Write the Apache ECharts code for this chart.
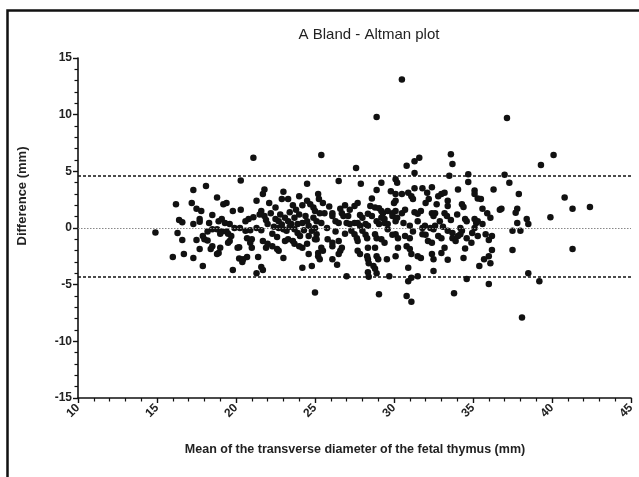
<!DOCTYPE html>
<html>
<head>
<meta charset="utf-8">
<script src="https://cdn.jsdelivr.net/npm/echarts@6/dist/echarts.min.js"></script>
<style>
html,body{margin:0;padding:0;background:#fff;}
#c{width:639px;height:477px;}
</style>
</head>
<body>
<div id="c"></div>
<script>
// Chart texts
const titleText = 'A Bland - Altman plot';
const xAxisTitle = 'Mean of the transverse diameter of the fetal thymus (mm)';
const yAxisTitle = 'Difference (mm)';

// Axis ranges / ticks
const xTicks = [10, 15, 20, 25, 30, 35, 40, 45];
const yTicks = [-15, -10, -5, 0, 5, 10, 15];

// Reference lines: upper limit of agreement, zero, lower limit of agreement
const upperLoA = 4.62;
const zeroLine = 0;
const lowerLoA = -4.32;

// Points (mean, difference)
const meanX = [
14.9,16.2,17.3,18.1,17.2,18.8,19.2,19.4,17.5,17.8,18.5,19.8,16.4,16.6,17.3,17.7,17.7,18.3,18.9,19.1,19.3,19.6,16.3,18.2,18.5,17.9,18.0,18.2,18.8,19.1,19.0,19.4,19.5,19.7,19.6,16.6,17.5,18.5,18.4,17.7,19.0,18.9,18.8,19.5,16.0,16.7,17.3,17.9,19.8,20.2,20.1,
21.1,20.3,24.5,21.8,21.7,23.0,22.9,23.3,21.3,22.1,20.3,21.6,21.5,22.5,24.5,24.7,24.9,25.0,20.8,20.6,21.1,21.8,21.9,22.0,22.5,22.7,23.3,23.5,23.7,23.9,24.2,24.4,24.5,24.6,24.9,25.1,19.9,20.25,20.6,20.9,21.3,21.6,22.7,23.0,23.2,23.9,24.05,24.8,25.1,20.7,21.0,20.9,21.7,22.0,21.9,22.3,22.6,22.7,23.1,23.3,23.6,23.7,24.2,24.5,25.0,20.2,21.0,24.6,25.2,20.7,23.0,20.4,20.45,21.4,21.6,21.7,21.3,24.2,24.8,25.0,
22.2,22.8,23.1,23.4,23.8,24.0,24.2,24.0,23.6,22.4,22.9,23.4,23.7,24.3,24.6,22.3,22.6,24.0,
25.4,27.6,26.5,27.9,28.9,29.2,30.1,30.2,29.8,30.1,25.2,25.25,25.5,27.7,27.5,28.5,28.8,29.05,29.2,29.3,29.6,29.9,25.3,25.6,26.1,26.1,26.6,26.7,26.8,27.1,27.85,28.0,28.35,28.6,29.2,29.4,29.9,30.2,25.4,26.3,26.5,27.0,27.2,27.5,27.7,27.85,28.2,28.35,28.9,29.05,29.4,29.6,25.0,25.76,27.3,27.5,27.65,27.7,28.0,28.2,28.3,28.8,28.9,29.2,29.4,30.1,30.25,25.1,25.8,26.1,26.1,26.5,25.4,25.5,26.7,26.6,26.5,27.7,27.85,28.35,28.8,28.3,28.35,28.4,28.9,29.0,29.55,30.1,25.2,25.3,26.1,26.4,28.7,28.8,28.9,28.35,28.4,27.0,29.7,29.05,
25.9,26.9,27.2,26.3,26.9,29.6,29.9,30.0,28.6,28.9,30.5,
33.6,33.7,31.6,31.3,30.8,31.3,33.5,34.7,34.7,30.9,31.3,31.8,32.4,33.0,33.2,34.05,35.1,35.1,30.5,30.1,31.1,31.2,32.1,32.2,32.0,32.8,32.7,33.4,33.4,34.3,34.4,30.1,30.5,30.7,31.3,31.5,31.7,32.4,32.5,32.6,33.2,33.35,34.5,34.6,35.1,35.2,30.1,30.6,31.0,31.5,31.8,31.96,32.3,32.5,32.6,33.1,33.4,33.7,34.2,34.3,34.2,34.05,35.1,30.7,31.0,31.8,32.8,33.0,33.7,33.9,34.6,34.9,34.95,30.25,30.8,31.0,31.1,31.5,31.7,32.15,32.4,33.2,32.4,32.5,33.4,34.4,35.4,30.9,32.5,31.5,31.1,30.9,34.6,30.8,31.1,33.8,
32.9,33.6,34.0,31.2,32.0,34.5,33.0,
36.3,35.3,35.5,36.7,35.6,35.9,36.1,35.3,35.6,35.3,35.8,36.2,36.0,36.2,36.0,35.7,36.1,36.0,
37.15,37.0,37.3,37.9,36.8,37.8,37.7,37.8,38.4,38.5,37.5,38.0,37.5,38.5,39.2,38.1,39.3,40.1,40.8,41.3,42.4,39.9,41.3
];
const diff = [
-0.4,2.1,3.35,3.7,2.2,2.7,2.1,2.2,1.7,1.5,1.15,1.5,0.7,0.5,0.35,0.8,0.55,0.45,0.6,0.8,0.45,0.35,-0.45,-0.3,-0.1,-0.7,-1.0,-1.1,-0.1,-0.3,-0.5,-0.3,-0.5,-0.7,-1.15,-1.05,-1.05,-1.6,-1.85,-1.85,-1.75,-2.2,-2.3,-1.3,-2.55,-2.3,-2.65,-3.35,-3.7,-2.7,-1.75,
6.2,4.2,3.9,3.4,3.0,3.2,2.55,2.55,2.4,2.2,1.6,1.5,1.2,1.8,2.4,2.1,1.8,1.5,0.8,0.6,0.95,1.05,0.7,0.35,0.8,0.6,0.6,0.35,0.9,0.35,0.45,1.05,0.6,0.2,0.9,0.6,0.0,0.0,-0.25,-0.2,0.0,-0.2,0.0,-0.1,-0.25,-0.45,-0.7,-0.25,-0.55,-0.9,-1.0,-1.3,-1.15,-1.4,-1.75,-1.6,-1.85,-2.0,-1.15,-1.0,-1.15,-1.4,-1.75,-1.4,-1.0,-1.7,-1.75,-2.3,-2.2,-2.55,-2.65,-3.0,-2.75,-2.55,-3.45,-3.7,-4.0,-3.5,-3.35,-5.7,
1.3,1.2,0.9,1.4,1.6,1.2,2.0,2.8,2.0,0.1,0.3,0.1,-0.1,-0.2,-0.7,-0.5,-0.8,-1.6,
6.45,5.3,4.15,3.9,3.35,4.0,4.3,4.0,3.25,3.0,3.0,2.55,2.2,2.2,1.95,1.95,1.8,1.75,1.5,1.3,1.5,1.3,1.3,1.3,1.3,1.05,1.7,1.3,1.05,1.05,1.15,0.9,1.25,1.05,0.9,0.8,1.05,0.9,0.45,0.6,0.45,0.45,0.35,0.45,0.45,0.2,0.35,0.2,0.6,0.35,0.45,0.35,0.0,0.0,-0.25,-0.55,-0.9,-1.15,-0.25,-0.6,-0.9,-0.55,-0.9,-1.0,-1.3,-0.55,-0.9,-1.0,-1.0,-1.3,-1.6,-1.15,-1.75,-2.0,-1.75,-2.0,-2.3,-2.0,-2.3,-1.75,-1.75,-2.5,-2.75,-3.1,-2.5,-2.75,-2.75,-2.5,-2.5,-2.75,-2.75,-3.25,-3.35,-3.6,-4.0,-3.9,-4.3,-4.25,-4.25,-5.85,
1.9,2.0,1.6,-0.3,-0.5,-0.1,-0.6,2.2,2.6,9.8,13.1,
6.5,5.65,6.2,5.9,5.5,4.85,4.6,4.75,4.05,3.1,3.5,3.5,3.6,3.0,3.1,3.4,3.3,3.0,3.0,2.4,2.8,2.55,3.1,2.55,2.2,2.8,2.1,2.4,1.95,2.1,1.85,1.5,1.3,1.6,1.4,1.25,1.5,1.3,1.05,1.3,1.3,1.05,0.8,0.6,0.8,0.45,0.6,0.45,0.2,0.6,0.0,0.2,0.0,-0.1,0.2,0.1,-0.25,-0.45,0.0,-0.25,-0.55,-0.7,0.0,-0.7,-0.9,-0.55,-0.7,-0.9,-0.9,-1.15,-0.9,-1.3,-0.45,-1.75,-1.6,-1.85,-2.3,-2.5,-2.65,-1.15,-1.3,-1.75,-2.3,-2.75,-2.8,-2.65,-3.35,-3.5,-3.8,-4.25,-4.4,-4.7,-4.5,-6.0,-6.5,-5.75,
0.6,0.7,1.2,-0.3,-0.6,-1.8,-2.2,
3.4,2.6,2.55,1.6,1.7,1.3,0.9,0.6,0.35,-0.7,-0.55,-0.7,-1.05,-1.95,-2.5,-2.75,-3.1,-4.95,
9.7,4.7,4.0,3.0,1.7,1.7,1.35,0.45,0.8,0.35,-0.25,-0.25,-1.95,-4.0,-4.7,-7.9,5.55,6.45,2.7,1.7,1.85,0.95,-1.85
];

const points = meanX.map((x, i) => [x, diff[i]]);

const FONT = "'Liberation Sans', Arial, Helvetica, sans-serif";
const chart = echarts.init(document.getElementById('c'), null, {renderer: 'canvas'});

const axisCommon = {
  type: 'value',
  axisLine: {show: true, onZero: false, lineStyle: {color: '#111', width: 1.6}},
  axisTick: {show: true, inside: false, length: 5, lineStyle: {color: '#111', width: 1.4}},
  minorTick: {show: true, splitNumber: 5, length: 3.5, lineStyle: {color: '#111', width: 1.2}},
  splitLine: {show: false},
  minorSplitLine: {show: false}
};

const option = {
  backgroundColor: '#fff',
  animation: false,
  title: {
    text: titleText,
    left: 364, top: 22, textAlign: 'center',
    textStyle: {fontFamily: FONT, fontSize: 15, fontWeight: 'normal', color: '#222'}
  },
  grid: {left: 78, right: 8, top: 58, bottom: 79, containLabel: false},
  xAxis: Object.assign({}, axisCommon, {
    min: xTicks[0], max: xTicks[xTicks.length - 1], interval: 5,
    axisLabel: {rotate: 45, margin: 8, fontFamily: FONT, fontSize: 12, fontWeight: 'bold', color: '#222'}
  }),
  yAxis: Object.assign({}, axisCommon, {
    min: yTicks[0], max: yTicks[yTicks.length - 1], interval: 5,
    axisLabel: {margin: 6, fontFamily: FONT, fontSize: 12, fontWeight: 'bold', color: '#222'}
  }),
  graphic: [
    {type: 'rect', left: 5, top: 8, shape: {width: 660, height: 500},
     style: {fill: 'none', stroke: '#111', lineWidth: 2.5}, silent: true, z: 100},
    {type: 'text', x: 355, y: 450,
     style: {text: xAxisTitle, font: "bold 12.5px " + FONT, fill: '#222', align: 'center', verticalAlign: 'middle'}},
    {type: 'text', x: 22, y: 196, rotation: Math.PI / 2,
     style: {text: yAxisTitle, font: "bold 13px " + FONT, fill: '#222', align: 'center', verticalAlign: 'middle'}}
  ],
  series: [{
    type: 'scatter',
    data: points,
    symbol: 'circle',
    symbolSize: 6.5,
    itemStyle: {color: '#111', opacity: 1},
    markLine: {
      silent: true,
      symbol: ['none', 'none'],
      label: {show: false},
      data: [
        {yAxis: upperLoA, lineStyle: {type: [3, 2], color: '#111', width: 1.6}},
        {yAxis: lowerLoA, lineStyle: {type: [3, 2], color: '#111', width: 1.6}},
        {yAxis: zeroLine, lineStyle: {type: [1.5, 1.5], color: '#888', width: 1.2}}
      ]
    }
  }]
};
chart.setOption(option);
</script>
</body>
</html>
